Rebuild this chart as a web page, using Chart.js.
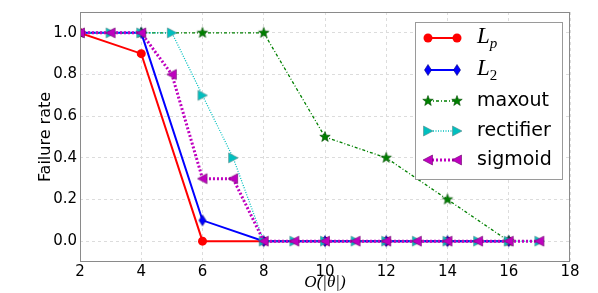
<!DOCTYPE html>
<html>
<head>
<meta charset="utf-8">
<script src="https://cdn.jsdelivr.net/npm/chart.js@4"></script>
<style>
html, body { margin: 0; padding: 0; background: #fff; }
#wrap { width: 598px; height: 293px; }
</style>
</head>
<body>
<div id="wrap"><canvas id="chartCanvas" width="598" height="293"></canvas></div>
<script>
// Data
const evenX = [2, 4, 6, 8, 10, 12, 14, 16];
const stepX = [2, 3, 4, 5, 6, 7, 8, 9, 10, 11, 12, 13, 14, 15, 16, 17];
const lpRate = [1.0, 0.9, 0.0, 0.0, 0.0, 0.0, 0.0, 0.0];
const l2Rate = [1.0, 1.0, 0.1, 0.0, 0.0, 0.0, 0.0, 0.0];
const maxoutRate = [1.0, 1.0, 1.0, 1.0, 0.5, 0.4, 0.2, 0.0];
const rectifierRate = [1.0, 1.0, 1.0, 1.0, 0.7, 0.4, 0, 0, 0, 0, 0, 0, 0, 0, 0, 0];
const sigmoidRate = [1.0, 1.0, 1.0, 0.8, 0.3, 0.3, 0, 0, 0, 0, 0, 0, 0, 0, 0, 0];
const xTicks = [2, 4, 6, 8, 10, 12, 14, 16, 18];
const yTicks = [0.0, 0.2, 0.4, 0.6, 0.8, 1.0];

function toPoints(xs, ys) {
    return xs.map((x, i) => ({ x: x, y: ys[i] }));
}

// Small canvases used as marker shapes
function markerCanvas(size, fill, edge, path) {
    const c = document.createElement('canvas');
    c.width = size;
    c.height = size;
    const g = c.getContext('2d');
    g.beginPath();
    path(g, size / 2);
    g.closePath();
    g.fillStyle = fill;
    g.fill();
    g.lineWidth = 0.6;
    g.strokeStyle = edge;
    g.stroke();
    return c;
}

const starMarker = markerCanvas(14, '#008000', '#004d00', function(g, c) {
    for (let i = 0; i < 10; i++) {
        const r = i % 2 === 0 ? 5.5 : 2.3;
        const a = -Math.PI / 2 + i * Math.PI / 5;
        g.lineTo(c + r * Math.cos(a), c + r * Math.sin(a));
    }
});
const diamondMarker = markerCanvas(14, '#0000ff', '#00007a', function(g, c) {
    g.moveTo(c, c - 5.5);
    g.lineTo(c + 3.5, c);
    g.lineTo(c, c + 5.5);
    g.lineTo(c - 3.5, c);
});
const rightMarker = markerCanvas(14, '#00bfbf', '#5a8a8a', function(g, c) {
    g.moveTo(c + 5, c);
    g.lineTo(c - 4.5, c - 5);
    g.lineTo(c - 4.5, c + 5);
});
const leftMarker = markerCanvas(14, '#bf00bf', '#6a006a', function(g, c) {
    g.moveTo(c - 5, c);
    g.lineTo(c + 4.5, c - 5);
    g.lineTo(c + 4.5, c + 5);
});

const seriesLegend = [
    { main: 'L', sub: 'p', color: '#ff0000', width: 2, dash: [], marker: 'circle' },
    { main: 'L', sub: '2', color: '#0000ff', width: 2, dash: [], marker: diamondMarker },
    { text: 'maxout', color: '#008000', width: 1.3, dash: [3, 2, 1, 2], marker: starMarker },
    { text: 'rectifier', color: '#00bfbf', width: 1.3, dash: [1, 1.5], marker: rightMarker },
    { text: 'sigmoid', color: '#bf00bf', width: 3, dash: [2, 2], marker: leftMarker }
];

// Frame around the plot and the legend box
const framePlugin = {
    id: 'frame',
    afterDatasetsDraw(chart) {
        const a = chart.chartArea;
        const ctx = chart.ctx;
        ctx.save();
        ctx.strokeStyle = '#8a8a8a';
        ctx.lineWidth = 1;
        ctx.strokeRect(a.left + 0.5, a.top + 0.5, a.right - a.left - 1, a.bottom - a.top - 1);
        ctx.restore();
    },
    afterDraw(chart) {
        const ctx = chart.ctx;
        const bx = 415, by = 22, bw = 147, bh = 157;
        ctx.save();
        ctx.fillStyle = '#ffffff';
        ctx.fillRect(bx, by, bw, bh);
        ctx.strokeStyle = '#9a9a9a';
        ctx.lineWidth = 1;
        ctx.strokeRect(bx + 0.5, by + 0.5, bw, bh);

        const rows = [38, 70, 101, 131, 160];
        const x1 = 428, x2 = 457, tx = 477;
        seriesLegend.forEach((s, i) => {
            const y = rows[i];
            ctx.strokeStyle = s.color;
            ctx.lineWidth = s.width;
            ctx.setLineDash(s.dash);
            ctx.beginPath();
            ctx.moveTo(x1, y);
            ctx.lineTo(x2, y);
            ctx.stroke();
            ctx.setLineDash([]);
            [x1, x2].forEach(mx => {
                if (s.marker === 'circle') {
                    ctx.fillStyle = s.color;
                    ctx.beginPath();
                    ctx.arc(mx, y, 4.5, 0, Math.PI * 2);
                    ctx.fill();
                } else {
                    ctx.drawImage(s.marker, mx - 7, y - 7);
                }
            });
            ctx.fillStyle = '#000';
            ctx.textBaseline = 'middle';
            ctx.textAlign = 'left';
            if (s.text) {
                ctx.font = '19px "DejaVu Sans"';
                ctx.fillText(s.text, tx, y);
            } else {
                ctx.font = 'italic 23px "Liberation Serif"';
                ctx.fillText(s.main, tx, y - 1);
                const w = ctx.measureText(s.main).width;
                ctx.font = (s.sub === 'p' ? 'italic ' : '') + '15px "Liberation Serif"';
                ctx.fillText(s.sub, tx + w, y + 6);
            }
        });
        ctx.restore();
    }
};

window.onload = function() {
    const ctx = document.getElementById('chartCanvas').getContext('2d');

    new Chart(ctx, {
        type: 'line',
        data: {
            datasets: [
                {
                    label: 'Lp',
                    data: toPoints(evenX, lpRate),
                    borderColor: '#ff0000',
                    backgroundColor: '#ff0000',
                    borderWidth: 2,
                    pointStyle: 'circle',
                    pointRadius: 4.5,
                    pointBorderWidth: 0,
                    order: 5
                },
                {
                    label: 'L2',
                    data: toPoints(evenX, l2Rate),
                    borderColor: '#0000ff',
                    backgroundColor: '#0000ff',
                    borderWidth: 2,
                    pointStyle: diamondMarker,
                    order: 4
                },
                {
                    label: 'maxout',
                    data: toPoints(evenX, maxoutRate),
                    borderColor: '#008000',
                    backgroundColor: '#008000',
                    borderWidth: 1.3,
                    borderDash: [3, 2, 1, 2],
                    pointStyle: starMarker,
                    order: 3
                },
                {
                    label: 'rectifier',
                    data: toPoints(stepX, rectifierRate),
                    borderColor: '#00bfbf',
                    backgroundColor: '#00bfbf',
                    borderWidth: 1.3,
                    borderDash: [1, 1.5],
                    pointStyle: rightMarker,
                    order: 2
                },
                {
                    label: 'sigmoid',
                    data: toPoints(stepX, sigmoidRate),
                    borderColor: '#bf00bf',
                    backgroundColor: '#bf00bf',
                    borderWidth: 3,
                    borderDash: [2, 2],
                    pointStyle: leftMarker,
                    order: 1
                }
            ]
        },
        options: {
            responsive: false,
            animation: false,
            layout: { padding: { left: 36, right: 28, top: 12, bottom: 0 } },
            elements: { line: { tension: 0 } },
            datasets: { line: { clip: 0 } },
            scales: {
                x: {
                    type: 'linear',
                    min: 2,
                    max: 18,
                    afterBuildTicks: function(axis) {
                        axis.ticks = xTicks.map(v => ({ value: v }));
                    },
                    afterFit: function(axis) { axis.height = 31; },
                    grid: { color: '#dcdcdc', drawTicks: false, tickLength: 0 },
                    border: { display: false, dash: [3, 3] },
                    ticks: {
                        color: '#000',
                        padding: 1,
                        maxRotation: 0,
                        font: { family: 'DejaVu Sans', size: 15 }
                    },
                    title: {
                        display: true,
                        text: 'O(|θ|)',
                        color: '#000',
                        padding: 0,
                        font: { family: 'Liberation Serif', size: 17, style: 'italic' }
                    }
                },
                y: {
                    min: -0.1,
                    max: 1.1,
                    afterBuildTicks: function(axis) {
                        axis.ticks = yTicks.map(v => ({ value: v }));
                    },
                    afterFit: function(axis) { axis.width = 44; },
                    grid: { color: '#dcdcdc', drawTicks: false, tickLength: 0 },
                    border: { display: false, dash: [3, 3] },
                    ticks: {
                        color: '#000',
                        padding: 3,
                        font: { family: 'DejaVu Sans', size: 15 },
                        callback: function(value) { return value.toFixed(1); }
                    },
                    title: {
                        display: true,
                        text: 'Failure rate',
                        color: '#000',
                        padding: 0,
                        font: { family: 'DejaVu Sans', size: 16 }
                    }
                }
            },
            plugins: {
                legend: { display: false },
                tooltip: { enabled: false }
            }
        },
        plugins: [framePlugin]
    });
};
</script>
</body>
</html>
